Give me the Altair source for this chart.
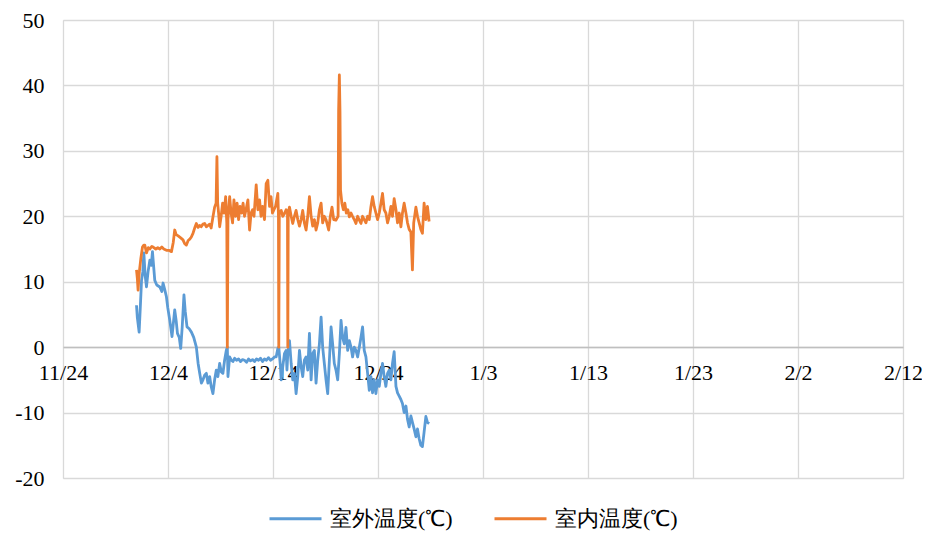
import altair as alt
import pandas as pd

# ---------------- data (days after 11/24, temperature) ----------------
outdoor_day = [7.00, 7.08, 7.25, 7.36, 7.48, 7.60, 7.70, 7.82, 7.95, 8.10, 8.27, 8.41, 8.52, 8.74, 8.93,
               9.22, 9.41, 9.53, 9.69, 9.85, 9.98, 10.17, 10.38, 10.50, 10.64, 10.78, 10.90, 11.07, 11.21,
               11.35, 11.52, 11.64, 11.81, 12.02, 12.23, 12.45, 12.70, 12.87, 13.02, 13.18, 13.33, 13.49,
               13.65, 13.80, 13.97, 14.11, 14.28, 14.44, 14.60, 14.75, 14.92, 15.08, 15.23, 15.39, 15.55,
               15.65, 15.71, 15.87, 16.03, 16.18, 16.34, 16.53, 16.72, 16.91, 17.10, 17.29, 17.48, 17.67,
               17.86, 18.05, 18.24, 18.43, 18.62, 18.81, 19.00, 19.19, 19.38, 19.57, 19.76, 19.95, 20.14,
               20.30, 20.46, 20.55, 20.71, 20.78, 20.93, 21.09, 21.25, 21.33, 21.41, 21.57, 21.73, 21.88,
               22.04, 22.20, 22.36, 22.52, 22.68, 22.83, 22.99, 23.15, 23.31, 23.47, 23.63, 23.78, 23.94,
               24.10, 24.26, 24.42, 24.58, 24.73, 24.89, 25.05, 25.21, 25.37, 25.53, 25.68, 25.84, 26.00,
               26.16, 26.32, 26.48, 26.63, 26.79, 26.95, 27.11, 27.27, 27.43, 27.58, 27.74, 27.90, 28.06,
               28.22, 28.38, 28.53, 28.69, 28.85, 29.01, 29.17, 29.33, 29.48, 29.64, 29.80, 29.96, 30.12,
               30.28, 30.43, 30.59, 30.75, 30.91, 31.07, 31.23, 31.38, 31.54, 31.71, 31.86, 32.02, 32.18,
               32.33, 32.49, 32.66, 32.81, 32.97, 33.13, 33.28, 33.44, 33.61, 33.76, 33.92, 34.08, 34.23,
               34.39, 34.56, 34.71, 34.87]
outdoor_temp = [6.4, 4.5, 2.3, 6.0, 10.2, 11.5, 14.4, 11.0, 9.2, 11.5, 13.3, 12.5, 14.6, 10.2, 9.5,
                9.2, 8.5, 9.8, 8.8, 7.7, 6.0, 4.1, 1.6, 3.5, 5.7, 4.0, 2.1, 1.5, -0.2,
                3.0, 8.0, 5.5, 3.1, 2.8, 2.3, 1.5, 0.0, -2.5, -4.0, -5.5, -5.0, -4.3,
                -4.0, -5.5, -4.5, -6.0, -7.1, -5.0, -3.5, -4.5, -2.5, -3.8, -4.0, -2.0, -0.5,
                0.0, -4.5, -1.5, -2.0, -2.2, -1.7, -2.0, -1.8, -2.2, -1.9, -2.0, -2.3, -1.8,
                -2.1, -1.9, -2.2, -1.8, -2.0, -1.7, -2.2, -1.8, -2.0, -1.6, -2.0, -1.8, -1.5,
                -1.5, -0.2, 0.0, -3.0, -5.0, -3.0, -1.0, -0.5, -3.5, -1.0, 1.0, -2.5, -5.0,
                -4.0, -7.1, -4.5, -0.5, -3.0, -4.5, -2.0, -1.5, -3.5, 2.1, -5.0, -1.0, -0.5,
                -5.5, -2.0, 0.5, 4.6, 0.0, -2.5, -5.0, -7.1, -2.0, 3.1, 0.5, -2.5, -3.5,
                -5.0, -1.0, 4.1, 1.5, 0.5, 3.0, -0.5, 1.0, 0.0, -1.5, 0.0, -0.5, -1.5,
                0.0, 1.5, 3.1, -0.5, -1.5, -4.0, -6.6, -4.5, -7.0, -5.0, -7.1, -5.0, -6.0,
                -4.0, -2.5, -4.5, -6.0, -4.0, -3.5, -5.0, -2.5, -0.7, -6.0, -7.0, -7.5, -8.0,
                -8.6, -10.0, -9.0, -11.0, -12.2, -10.5, -11.5, -12.5, -13.7, -12.5, -14.0, -15.0, -15.2,
                -13.0, -10.6, -11.5, -11.7]

indoor_day = [7.00, 7.08, 7.15, 7.27, 7.41, 7.57, 7.70, 7.79, 7.95, 8.12, 8.27, 8.46, 8.58, 8.84, 9.03,
              9.22, 9.41, 9.60, 9.85, 10.07, 10.33, 10.50, 10.64, 10.78, 10.97, 11.21, 11.43, 11.59,
              11.75, 11.92, 12.07, 12.21, 12.38, 12.54, 12.70, 12.87, 13.02, 13.16, 13.33, 13.49, 13.65,
              13.82, 13.97, 14.11, 14.28, 14.44, 14.58, 14.66, 14.73, 14.82, 14.92, 15.06, 15.20, 15.34,
              15.49, 15.60, 15.65, 15.71, 15.87, 16.01, 16.15, 16.28, 16.44, 16.58, 16.72, 16.86, 17.01,
              17.15, 17.29, 17.43, 17.61, 17.77, 17.91, 18.05, 18.19, 18.40, 18.56, 18.72, 18.86, 19.00,
              19.19, 19.35, 19.51, 19.67, 19.81, 19.95, 20.09, 20.24, 20.46, 20.52, 20.55, 20.60, 20.78,
              20.93, 21.09, 21.25, 21.38, 21.41, 21.45, 21.57, 21.73, 21.88, 22.04, 22.20, 22.36, 22.52,
              22.68, 22.83, 22.99, 23.15, 23.31, 23.47, 23.63, 23.78, 23.94, 24.10, 24.26, 24.42, 24.58,
              24.73, 24.89, 25.05, 25.21, 25.30, 25.46, 25.62, 25.78, 26.00, 26.13, 26.20, 26.25, 26.32,
              26.38, 26.43, 26.56, 26.70, 26.84, 26.98, 27.13, 27.27, 27.43, 27.58, 27.74, 27.90, 28.06,
              28.22, 28.38, 28.53, 28.69, 28.85, 29.01, 29.17, 29.33, 29.48, 29.64, 29.80, 29.96, 30.12,
              30.28, 30.43, 30.59, 30.75, 30.91, 31.07, 31.23, 31.38, 31.54, 31.71, 31.86, 32.02, 32.18,
              32.33, 32.49, 32.66, 32.81, 32.97, 33.13, 33.28, 33.40, 33.61, 33.76, 33.92, 34.08, 34.23,
              34.39, 34.56, 34.71, 34.87]
indoor_temp = [11.8, 10.5, 8.7, 11.5, 13.5, 15.3, 15.6, 15.6, 14.4, 15.2, 15.0, 15.4, 15.3, 15.0, 15.2,
               15.0, 15.3, 15.0, 14.8, 14.8, 14.6, 16.0, 17.9, 17.2, 17.0, 16.7, 16.4, 15.8,
               15.6, 16.3, 16.5, 16.8, 17.4, 18.2, 18.9, 18.3, 18.6, 18.4, 18.8, 18.9, 18.4,
               18.6, 18.8, 18.2, 19.9, 21.4, 22.0, 29.1, 22.0, 20.5, 18.4, 20.0, 22.0, 20.5,
               23.0, 19.0, 0.0, 19.5, 23.0, 20.5, 19.0, 22.5, 20.0, 22.0, 19.5, 21.5, 20.5,
               22.0, 20.0, 21.0, 22.5, 17.9, 20.5, 21.0, 20.0, 24.8, 21.0, 22.5, 20.0, 21.5,
               19.5, 25.0, 25.5, 21.5, 23.0, 20.5, 21.0, 21.5, 23.5, 20.0, 0.0, 20.5, 20.9,
               20.0, 20.4, 21.0, 20.5, 0.0, 20.5, 21.4, 20.0, 18.9, 20.0, 20.9, 19.5, 18.5,
               19.5, 20.9, 19.0, 17.9, 20.0, 23.0, 20.0, 18.5, 19.5, 17.9, 19.0, 21.0, 22.0,
               19.0, 20.0, 19.5, 18.5, 17.9, 20.0, 21.4, 19.5, 19.4, 19.8, 20.0, 36.2, 41.6,
               36.0, 24.0, 22.0, 21.0, 22.0, 20.5, 21.0, 19.9, 20.5, 20.0, 19.5, 18.9, 20.0,
               19.4, 18.9, 20.0, 19.5, 19.0, 20.0, 19.5, 21.5, 23.0, 21.5, 20.5, 19.5, 20.5,
               22.0, 23.5, 21.0, 20.5, 19.0, 20.0, 21.5, 20.0, 22.7, 21.0, 19.0, 20.5, 18.4,
               20.5, 22.0, 20.5, 19.0, 18.0, 17.6, 11.8, 19.0, 21.4, 20.0, 19.0, 18.0, 17.4,
               22.0, 19.5, 21.5, 19.2]

series_names = ["室外温度(℃)", "室内温度(℃)"]
series_colors = ["#5B9BD5", "#ED7D31"]
x_tick_days = [0, 10, 20, 30, 40, 50, 60, 70, 80]
y_ticks = [-20, -10, 0, 10, 20, 30, 40, 50]

# ---------------- build tables ----------------
BASE_MS = int(pd.Timestamp("2023-11-24", tz="UTC").value // 10**6)
DAY_MS = 86400000


def to_ms(d):
    return BASE_MS + int(round(d * DAY_MS))


outdoor_df = pd.DataFrame({
    "t": [to_ms(d) for d in outdoor_day],
    "v": outdoor_temp,
    "s": series_names[0],
})
indoor_df = pd.DataFrame({
    "t": [to_ms(d) for d in indoor_day],
    "v": indoor_temp,
    "s": series_names[1],
})

FONT = "Liberation Serif"
GRID = "#D9D9D9"
FS = 22

x_enc = alt.X(
    "t:T",
    scale=alt.Scale(type="utc", domain=[to_ms(0), to_ms(80)], nice=False),
    axis=alt.Axis(
        values=[to_ms(d) for d in x_tick_days],
        labelExpr="utcFormat(datum.value, '%-m/%-d')",
        title=None,
        grid=True,
        gridColor=GRID,
        gridWidth=1.3,
        ticks=False,
        domain=True,
        domainColor="#BFBFBF",
        domainWidth=1.5,
        offset=-131,
        labelFont=FONT,
        labelFontSize=FS,
        labelColor="#000000",
        labelPadding=15,
        labelFlush=False,
        labelOverlap=False,
    ),
)
y_enc = alt.Y(
    "v:Q",
    scale=alt.Scale(domain=[-20, 50], nice=False, zero=False),
    axis=alt.Axis(
        values=y_ticks,
        labelExpr="toString(datum.value)",
        title=None,
        grid=True,
        gridColor=GRID,
        gridWidth=1.3,
        ticks=False,
        domain=False,
        labelFont=FONT,
        labelFontSize=FS,
        labelColor="#000000",
        labelPadding=19,
    ),
)
color_enc = alt.Color(
    "s:N",
    scale=alt.Scale(domain=series_names, range=series_colors),
    legend=alt.Legend(
        title=None,
        orient="none",
        legendX=205,
        legendY=471,
        direction="horizontal",
        symbolType="stroke",
        symbolSize=2704,
        symbolStrokeWidth=3,
        labelFont=FONT,
        labelFontSize=FS,
        labelColor="#000000",
        labelOffset=7,
        columnPadding=33,
        labelLimit=300,
    ),
)

outdoor = alt.Chart(outdoor_df).mark_line(strokeWidth=2.8, strokeJoin="round").encode(
    x=x_enc, y=y_enc, color=color_enc, order="t:Q"
)
indoor = alt.Chart(indoor_df).mark_line(strokeWidth=2.8, strokeJoin="round").encode(
    x=x_enc, y=y_enc, color=color_enc, order="t:Q"
)

chart = alt.layer(outdoor, indoor).properties(
    width=840,
    height=458,
    autosize=alt.AutoSizeParams(type="none"),
    padding={"left": 55, "top": 12, "right": 19, "bottom": 56},
    background="white",
).configure_view(stroke=None).configure(font=FONT)

chart.save("out.html", embed_options={"renderer": "svg", "actions": False})
